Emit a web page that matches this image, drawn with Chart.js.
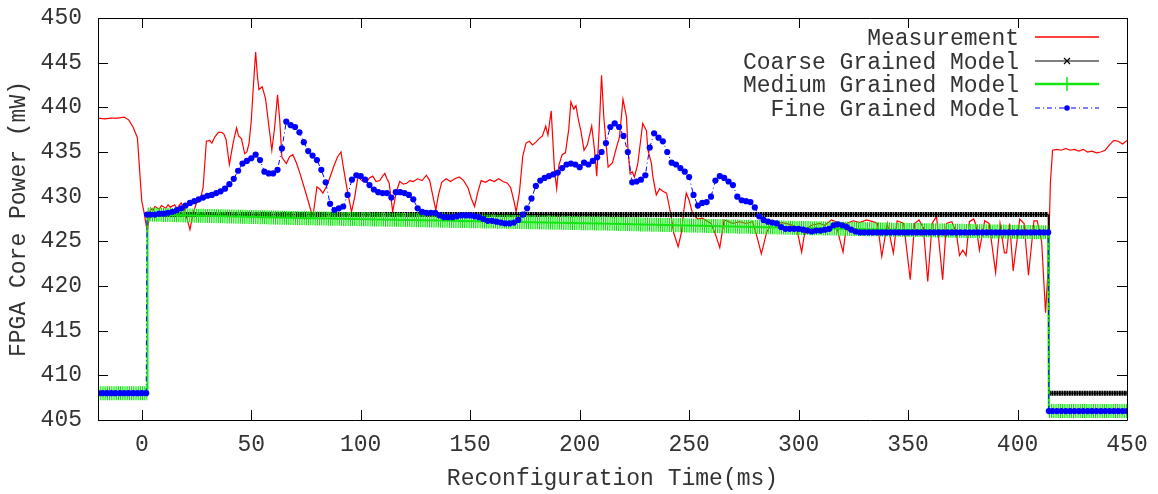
<!DOCTYPE html>
<html>
<head>
<meta charset="utf-8">
<script src="https://cdn.jsdelivr.net/npm/chart.js@4.4.1/dist/chart.umd.min.js"></script>
<style>
html,body{margin:0;padding:0;background:#fff;}
canvas{display:block;}
</style>
</head>
<body>
<canvas id="c" width="1158" height="494"></canvas>
<script>
// ---- tick labels ----
const xTicks = [0, 50, 100, 150, 200, 250, 300, 350, 400, 450];
const yTicks = [405, 410, 415, 420, 425, 430, 435, 440, 445, 450];

// ---- Measurement (red) ----
const measTime = [
-20,-17,-14,-11,-8,-6,-4,-2,-1,0,
1,2.5,4,5,6,8,9,11,12,13,
15,16,18,19.5,21,22,23.5,25,26.5,28,
29.5,31,32,33.4,35,36.5,37.5,38.5,40,41.7,
43.3,44.2,45.5,47,48,49,50,51,52,52.8,
53.5,55,56.5,57.5,59.4,60.7,62,63,64,66,
67.6,69,70.6,72,73.6,75.9,77.5,78.3,80,81.5,
82.7,84.5,86,88,89.5,91,92,94,95.8,97.3,
98.7,100.5,102.6,104,105.5,107,108.7,110,111,112,
113,114.6,116.2,117.8,119.5,121,122.5,124,126,128,
130,131.5,133,134.3,135.5,137,139,141,143,145,
147,149,150.5,152,153.5,155,157,159,161,163,
165,167,168.5,170,171,172.5,174,175.5,177,178.5,
180,181.5,183,184.5,185.5,187,188.5,189.5,190.5,192,
193.5,195,196,197.3,198.3,199.5,200.6,202,203.5,205.5,
206.8,207.8,209,210,211,213,215,216.8,218.2,219.8,
221.4,222,223,224,225,226.5,228.8,230.5,231.2,232.8,
233.4,235,236.5,238,239.7,241.5,243,245,246.5,247.5,
248.7,250,251.7,254,256,258,260,262,264,266,
268,270,273,276,279,281,283,285.4,288,290,
292.6,296,299,301.4,303,306,309.6,312,315,317,
318.5,320.3,322,325,328,331,334,336,338,340.5,
343.3,345,348,351,353,355,357,359,361,363,
365.8,367.5,370,372,373.5,375,376.5,378,380,381,
382.6,385,387,390,392,394,395,396.4,398,401,
403,405,407.5,409,411,412.8,414,415,416,418,
420,422,424,426,428,430,432,434,436,438,
440,442,444,446,448,450
];
const measPower = [
438.8,438.7,438.8,438.8,438.9,438.6,437.8,436.6,433.0,429.5,
428.3,426.1,428.7,428.4,428.9,428.6,429.0,428.7,429.1,428.8,
429.1,428.7,429.3,428.6,427.2,426.3,428.2,429.3,429.5,431.0,
436.2,436.3,436.0,436.7,437.2,437.2,437.0,436.4,433.6,436.0,
437.7,436.8,436.5,434.8,435.0,436.0,438.5,442.5,446.2,443.5,
442.0,442.3,441.0,439.0,435.2,437.8,441.4,438.6,434.4,433.7,
434.5,434.7,433.8,432.8,431.5,429.6,428.2,428.0,431.1,430.8,
430.4,431.2,432.2,433.6,434.5,435.0,433.4,430.5,428.3,430.0,
432.2,431.8,431.6,432.1,432.3,431.7,431.8,432.3,432.6,432.0,
431.5,428.3,430.5,431.7,431.4,431.5,431.8,431.7,432.0,431.8,
432.4,431.8,430.0,428.5,430.2,431.6,432.0,431.7,432.0,432.2,
431.8,431.0,429.8,428.9,430.5,431.8,431.6,431.9,431.7,432.0,
431.7,431.5,431.0,429.5,428.3,430.5,434.5,436.0,436.2,435.8,
436.1,436.5,436.8,437.9,436.9,439.6,433.0,430.9,433.5,434.7,
434.9,437.5,440.6,439.8,440.2,438.5,437.3,435.2,435.8,437.9,
435.2,432.3,438.0,443.6,439.0,433.3,433.8,435.5,436.7,440.9,
438.9,435.6,432.6,432.8,432.2,433.6,438.2,437.4,435.2,433.7,
432.3,430.2,430.9,430.6,430.4,428.2,425.9,424.4,426.0,428.3,
430.4,429.6,428.0,427.5,427.6,427.3,427.0,425.8,424.3,427.4,
427.2,427.0,427.2,427.0,427.2,425.5,423.6,426.0,427.2,427.0,
427.1,426.9,426.6,423.8,426.3,426.8,427.0,426.8,427.4,427.2,
425.5,423.8,427.0,427.3,427.1,427.4,427.2,427.0,423.3,427.0,
423.7,427.3,427.0,420.7,427.0,427.4,426.5,420.5,427.0,427.8,
420.7,427.0,427.2,426.0,423.4,424.0,423.4,427.2,427.5,426.8,
424.0,427.3,427.0,421.5,427.0,423.7,423.7,427.0,421.7,427.5,
427.0,421.2,427.3,427.3,425.0,417.0,422.0,431.5,435.2,435.3,
435.2,435.4,435.2,435.3,435.1,435.3,435.0,435.1,434.9,435.0,
435.2,435.8,436.3,436.2,435.9,436.3
];

// ---- Coarse grained model (black) ----
const coarseTime  = [-20, 2.5, 2.6, 414, 414.3, 450];
const coarsePower = [408, 408, 428, 428, 408, 408];

// ---- Medium grained model (green) ----
const mediumTime  = [-20, 2.5, 2.6, 72, 209, 300, 414, 414.3, 450];
const mediumPower = [408, 408, 428, 427.6, 427.0, 426.5, 426.0, 406, 406];

// ---- Fine grained model (blue) ----
const fineTime = [
-20,-18,-16,-14,-12,-10,-8,-6,-4,-2,0,2,2.4,
4,6,8,10,12,14,16,18,20,22,
24,26,28,30,32,34,36,38,40,42,
44,46,48,50,52,54,56,58,60,62,
64,66,68,70,72,74,76,78,80,82,
84,86,88,90,92,94,96,98,100,102,
104,106,108,110,112,114,116,118,120,122,
124,126,128,130,132,134,136,138,140,142,
144,146,148,150,152,154,156,158,160,162,
164,166,168,170,172,174,176,178,180,182,
184,186,188,190,192,194,196,198,200,202,
204,206,208,210,212,214,216,218,220,222,
224,226,228,230,232,234,236,238,240,242,
244,246,248,250,252,254,256,258,260,262,
264,266,268,270,272,274,276,278,280,282,
284,286,288,290,292,294,296,298,300,302,
304,306,308,310,312,314,316,318,320,322,
324,326,328,330,332,334,336,338,340,342,
344,346,348,350,352,354,356,358,360,362,
364,366,368,370,372,374,376,378,380,382,
384,386,388,390,392,394,396,398,400,402,
404,406,408,410,412,414,414.3,
416,418,420,422,424,426,428,430,432,434,436,438,440,442,444,446,448,450
];
const finePower = [
408,408,408,408,408,408,408,408,408,408,408,408,428.0,
428.0,428.0,428.1,428.1,428.2,428.3,428.5,428.7,429.0,429.3,
429.5,429.7,429.9,430.1,430.2,430.4,430.6,430.9,431.4,432.0,
432.9,433.7,434.0,434.3,434.7,434.1,432.8,432.6,432.6,433.0,
435.4,438.4,438.0,437.8,437.2,436.1,435.1,434.6,434.1,433.0,
431.6,429.2,428.5,428.7,428.9,430.2,431.9,432.4,432.3,431.9,
431.3,430.8,430.5,430.4,430.4,429.9,430.5,430.5,430.4,430.2,
429.7,428.7,428.3,428.2,428.2,428.2,427.9,427.7,427.7,427.7,
427.8,427.9,427.9,427.9,427.8,427.7,427.5,427.3,427.3,427.2,
427.1,427.0,427.0,427.1,427.4,428.0,428.7,429.8,431.2,431.8,
432.1,432.3,432.5,432.7,433.2,433.6,433.7,433.6,433.3,433.8,
433.6,434.0,434.4,435.0,436.0,437.8,438.2,437.8,436.8,435.0,
431.6,431.7,431.9,432.4,435.5,437.1,436.6,436.2,435.0,433.8,
433.6,433.2,432.8,432.2,430.2,429.0,429.3,429.4,430.0,431.8,
432.3,432.1,431.7,431.3,430.0,429.6,429.5,429.4,428.8,427.8,
427.4,427.2,427.1,427.0,426.6,426.4,426.4,426.4,426.4,426.3,
426.2,426.1,426.2,426.2,426.3,426.4,426.8,426.9,426.8,426.6,
426.3,426.1,426.0,426.0,426.0,426.0,426.0,426.0,426.0,426.0,
426.0,426.0,426.0,426.0,426.0,426.0,426.0,426.0,426.0,426.0,
426.0,426.0,426.0,426.0,426.0,426.0,426.0,426.0,426.0,426.0,
426.0,426.0,426.0,426.0,426.0,426.0,426.0,426.0,426.0,426.0,
426.0,426.0,426.0,426.0,426.0,426.0,406,
406,406,406,406,406,406,406,406,406,406,406,406,406,406,406,406,406,406
];

// ---- build library data tables from the arrays ----
function pts(ts, vs) { return ts.map((t, i) => ({ x: t, y: vs[i] })); }
// horizontal parts only (break at the near-vertical jumps), used for the dense marker bands
function bandPts(ts, vs) {
  const out = [];
  for (let i = 0; i < ts.length; i++) {
    out.push({ x: ts[i], y: vs[i] });
    if (i < ts.length - 1 && ts[i + 1] - ts[i] < 1) out.push({ x: (ts[i] + ts[i + 1]) / 2, y: null });
  }
  return out;
}

const FONT = '"Liberation Mono", "DejaVu Sans Mono", monospace';
const TXT = '#333333';

const datasets = [
  { label: 'Measurement', data: pts(measTime, measPower), borderColor: '#ff0000', borderWidth: 1.2,
    pointRadius: 0, order: 10, legendStyle: 'meas' },
  { label: 'Coarse Grained Model', data: pts(coarseTime, coarsePower), borderColor: '#000000', borderWidth: 1,
    pointRadius: 0, order: 8, legendStyle: 'coarse' },
  { label: '', band: true, data: bandPts(coarseTime, coarsePower), borderColor: '#000000', borderWidth: 5,
    borderDash: [2, 0.5], pointRadius: 0, spanGaps: false, order: 9 },
  { label: '', band: true, data: bandPts(mediumTime, mediumPower), borderColor: 'rgb(0,240,0)', borderWidth: 14,
    borderDash: [1.2, 1.0], pointRadius: 0, spanGaps: false, order: 7 },
  { label: 'Medium Grained Model', data: pts(mediumTime, mediumPower), borderColor: '#11e611', borderWidth: 2,
    pointRadius: 0, order: 6, legendStyle: 'medium' },
  { label: 'Fine Grained Model', data: pts(fineTime, finePower), borderColor: '#0000ff', borderWidth: 1,
    borderDash: [5, 3, 1, 3], pointRadius: 3.1, pointBackgroundColor: '#0000ff', pointBorderWidth: 0,
    pointStyle: 'circle', order: 1, legendStyle: 'fine' }
];

const framePlugin = {
  id: 'gpFrame',
  afterDraw(chart) {
    const { ctx, chartArea: a, scales: { x, y } } = chart;
    ctx.save();
    ctx.strokeStyle = '#000';
    ctx.lineWidth = 1;
    ctx.setLineDash([]);
    ctx.beginPath();
    ctx.rect(a.left + 0.5, a.top + 0.5, a.right - a.left, a.bottom - a.top);
    const L = 10;
    x.ticks.forEach(t => {
      const px = Math.round(x.getPixelForValue(t.value)) + 0.5;
      ctx.moveTo(px, a.bottom); ctx.lineTo(px, a.bottom - L);
      ctx.moveTo(px, a.top); ctx.lineTo(px, a.top + L);
    });
    y.ticks.forEach(t => {
      const py = Math.round(y.getPixelForValue(t.value)) + 0.5;
      ctx.moveTo(a.left, py); ctx.lineTo(a.left + L, py);
      ctx.moveTo(a.right, py); ctx.lineTo(a.right - L, py);
    });
    ctx.stroke();
    ctx.beginPath();
    ctx.restore();
  }
};

const legendPlugin = {
  id: 'gpLegend',
  afterDraw(chart) {
    const ctx = chart.ctx;
    const textRight = 1019, x0 = 1035, x1 = 1099, xm = 1067;
    let row = 0;
    ctx.save();
    chart.data.datasets.forEach(ds => {
      if (ds.band || !ds.legendStyle) return;
      const yy = Math.round(37 + row * 23.5);
      row++;
      ctx.font = '23px ' + FONT;
      ctx.fillStyle = TXT;
      ctx.textAlign = 'right';
      ctx.textBaseline = 'middle';
      ctx.fillText(ds.label, textRight, yy + 1.5);
      ctx.strokeStyle = ds.borderColor;
      ctx.lineWidth = ds.legendStyle === 'medium' ? 2.5 : (ds.legendStyle === 'meas' ? 1.6 : 1.2);
      ctx.setLineDash(ds.legendStyle === 'fine' ? [5, 3, 1, 3] : []);
      ctx.beginPath(); ctx.moveTo(x0, yy); ctx.lineTo(x1, yy); ctx.stroke();
      ctx.setLineDash([]);
      if (ds.legendStyle === 'coarse') {
        ctx.lineWidth = 1.2;
        ctx.beginPath();
        ctx.moveTo(xm - 3, yy - 3); ctx.lineTo(xm + 3, yy + 3);
        ctx.moveTo(xm - 3, yy + 3); ctx.lineTo(xm + 3, yy - 3);
        ctx.stroke();
      } else if (ds.legendStyle === 'medium') {
        ctx.lineWidth = 1.5;
        ctx.beginPath();
        ctx.moveTo(xm, yy - 7); ctx.lineTo(xm, yy + 7);
        ctx.stroke();
      } else if (ds.legendStyle === 'fine') {
        ctx.fillStyle = ds.borderColor;
        ctx.beginPath(); ctx.arc(xm, yy, 2.8, 0, Math.PI * 2); ctx.fill();
      }
    });
    ctx.restore();
  }
};

new Chart(document.getElementById('c').getContext('2d'), {
  type: 'line',
  data: { datasets },
  options: {
    responsive: false,
    animation: false,
    events: [],
    layout: { padding: { top: 18, right: 31, left: 0, bottom: 0 } },
    elements: { line: { tension: 0, borderCapStyle: 'butt' } },
    scales: {
      x: {
        type: 'linear', min: -20, max: 450,
        afterBuildTicks(s) { s.ticks = xTicks.map(v => ({ value: v })); },
        afterFit(s) { s.height = 74; s.paddingLeft = 0; s.paddingRight = 0; },
        grid: { display: false, drawTicks: false },
        border: { display: false },
        ticks: { padding: 11, color: TXT, font: { family: FONT, size: 23 }, maxRotation: 0, autoSkip: false },
        title: { display: true, text: 'Reconfiguration Time(ms)', color: TXT,
                 font: { family: FONT, size: 23 }, padding: { top: 0, bottom: 1 } }
      },
      y: {
        type: 'linear', min: 405, max: 450,
        afterBuildTicks(s) { s.ticks = yTicks.map(v => ({ value: v })); },
        afterFit(s) { s.width = 98; s.paddingTop = 0; s.paddingBottom = 0; },
        grid: { display: false, drawTicks: false },
        border: { display: false },
        ticks: { padding: 16, color: TXT, font: { family: FONT, size: 23 }, autoSkip: false },
        title: { display: true, text: 'FPGA Core Power (mW)', color: TXT,
                 font: { family: FONT, size: 23 }, padding: { top: 5, bottom: 0 } }
      }
    },
    plugins: { legend: { display: false }, tooltip: { enabled: false } }
  },
  plugins: [framePlugin, legendPlugin]
});
</script>
</body>
</html>
